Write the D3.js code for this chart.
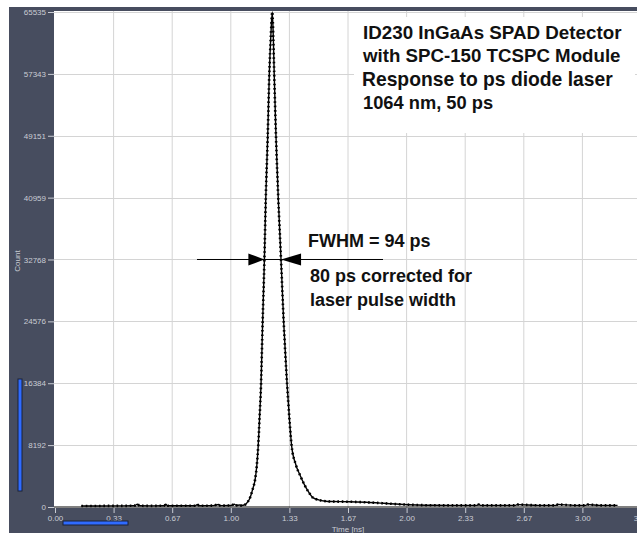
<!DOCTYPE html>
<html>
<head>
<meta charset="utf-8">
<script src="https://cdn.jsdelivr.net/npm/d3@7"></script>
<style>
  body { margin: 0; background: #fff; }
  svg { display: block; }
</style>
</head>
<body>
<script>

// data (time in ns, count)
const timeNs = [0.15, 0.25, 0.35, 0.45, 0.47, 0.48, 0.55, 0.62, 0.63, 0.64, 0.75, 0.80, 0.81, 0.82,
  0.90, 0.93, 0.94, 1.00, 1.02, 1.03, 1.05, 1.06, 1.08, 1.095, 1.105, 1.115, 1.125, 1.138, 1.148,
  1.156, 1.164, 1.172, 1.181, 1.191, 1.199, 1.210, 1.219, 1.228, 1.236, 1.242, 1.247, 1.257, 1.270,
  1.286, 1.301, 1.320, 1.334, 1.346, 1.370, 1.394, 1.420, 1.445, 1.469, 1.50, 1.53, 1.58, 1.67,
  1.77, 1.87, 1.96, 2.06, 2.15, 2.25, 2.40, 2.41, 2.42, 2.55, 2.62, 2.63, 2.75, 2.85, 2.86, 2.95,
  3.02, 3.03, 3.10, 3.20];
const counts = [130, 140, 150, 160, 380, 160, 150, 170, 360, 170, 160, 170, 330, 170,
  180, 340, 180, 200, 360, 220, 260, 200, 300, 650, 1000, 1600, 2400, 3600, 5500,
  8100, 12000, 16300, 24400, 32600, 40900, 49100, 57300, 62500, 65535, 62000, 57300, 49100, 40900,
  32600, 24400, 16300, 11500, 8100, 5600, 4200, 2900, 1900, 1200, 950, 800, 720, 700,
  620, 490, 360, 265, 225, 220, 220, 330, 220, 220, 220, 320, 220, 220, 330, 220,
  220, 320, 220, 220];

const yTicks = [0, 8192, 16384, 24576, 32768, 40959, 49151, 57343, 65535];
const xTicks = [0, 1 / 3, 2 / 3, 1, 4 / 3, 5 / 3, 2, 7 / 3, 8 / 3, 3, 10 / 3];
const xTickLabels = ["0.00", "0.33", "0.67", "1.00", "1.33", "1.67", "2.00", "2.33", "2.67", "3.00", "3.33"];

const titleLines = ["ID230 InGaAs SPAD Detector", "with SPC-150 TCSPC Module",
  "Response to ps diode laser", "1064 nm, 50 ps"];
const fwhmText = "FWHM = 94 ps";
const noteLines = ["80 ps corrected for", "laser pulse width"];

const W = 637, H = 533;
const plotLeft = 54, plotTop = 11, plotBottom = 508;

const svg = d3.select("body")
  .append("svg")
  .attr("width", W)
  .attr("height", H);

// dark frame of the software window
svg.append("rect")
  .attr("x", 9).attr("y", 7)
  .attr("width", W - 9).attr("height", H - 7)
  .attr("fill", "#474d5f");

svg.append("rect")
  .attr("x", plotLeft).attr("y", plotTop)
  .attr("width", W - plotLeft).attr("height", plotBottom - plotTop)
  .attr("fill", "#fff");

const x = d3.scaleLinear().domain([0, 10 / 3]).range([55, 641]);
const y = d3.scaleLinear().domain([0, 65535]).range([507, 12]);

// grid
svg.append("g")
  .selectAll("line")
  .data(xTicks.slice(1))
  .join("line")
  .attr("x1", d => x(d)).attr("x2", d => x(d))
  .attr("y1", plotTop).attr("y2", plotBottom)
  .attr("stroke", "#d4d4d4").attr("stroke-width", 1);

svg.append("g")
  .selectAll("line")
  .data(yTicks.slice(1))
  .join("line")
  .attr("x1", plotLeft).attr("x2", W)
  .attr("y1", d => Math.round(y(d)) + 0.5).attr("y2", d => Math.round(y(d)) + 0.5)
  .attr("stroke", "#d4d4d4").attr("stroke-width", 1);

// white box behind the title text
svg.append("rect")
  .attr("x", 354).attr("y", 17)
  .attr("width", 281).attr("height", 116)
  .attr("fill", "#fff");

// axes
const yAxis = svg.append("g")
  .attr("transform", "translate(" + plotLeft + ",0)")
  .call(d3.axisLeft(y).tickValues(yTicks).tickSize(6).tickPadding(2).tickFormat(d3.format("d")));

const xAxis = svg.append("g")
  .attr("transform", "translate(0," + plotBottom + ")")
  .call(d3.axisBottom(x).tickValues(xTicks).tickSize(5).tickPadding(2)
    .tickFormat((d, i) => xTickLabels[i]));

[yAxis, xAxis].forEach(function (ax) {
  ax.select(".domain").remove();
  ax.selectAll(".tick line").attr("stroke", "#c9ccd4");
  ax.selectAll(".tick text")
    .attr("fill", "#c9ccd4")
    .style("font-family", "'Liberation Sans', Arial, sans-serif")
    .style("font-size", "8px");
});

svg.append("text")
  .attr("x", 348).attr("y", 532)
  .attr("text-anchor", "middle")
  .attr("fill", "#c9ccd4")
  .style("font-family", "'Liberation Sans', Arial, sans-serif")
  .style("font-size", "8px")
  .text("Time [ns]");

svg.append("text")
  .attr("transform", "translate(20,261) rotate(-90)")
  .attr("text-anchor", "middle")
  .attr("fill", "#c9ccd4")
  .style("font-family", "'Liberation Sans', Arial, sans-serif")
  .style("font-size", "8px")
  .text("Count");

// scroll bars
svg.append("rect")
  .attr("x", 18).attr("y", 379).attr("width", 4).attr("height", 112)
  .attr("fill", "#2f6bff").attr("stroke", "#1b2238").attr("stroke-width", 1);
svg.append("rect")
  .attr("x", 63).attr("y", 521).attr("width", 65).attr("height", 4)
  .attr("fill", "#2f6bff").attr("stroke", "#1b2238").attr("stroke-width", 1);

// curve
svg.append("clipPath").attr("id", "plotclip")
  .append("rect")
  .attr("x", plotLeft).attr("y", plotTop)
  .attr("width", W - plotLeft).attr("height", plotBottom - plotTop);

const plotG = svg.append("g").attr("clip-path", "url(#plotclip)");

// zero line
plotG.append("line")
  .attr("x1", plotLeft).attr("x2", W)
  .attr("y1", y(0)).attr("y2", y(0))
  .attr("stroke", "#000").attr("stroke-width", 1);

const points = timeNs.map((t, i) => [t, counts[i]]);
const line = d3.line()
  .x(d => x(d[0]))
  .y(d => y(d[1]))
  .curve(d3.curveMonotoneX);

plotG.append("path")
  .attr("d", line(points))
  .attr("fill", "none")
  .attr("stroke", "#000")
  .attr("stroke-width", 1.4);

// dotted look of the data points
plotG.append("path")
  .attr("d", line(points))
  .attr("fill", "none")
  .attr("stroke", "#000")
  .attr("stroke-width", 2.6)
  .attr("stroke-dasharray", "1.6,2.8");

// FWHM arrow
const halfY = y(32768);
const leftX = x(1.191), rightX = x(1.286);

svg.append("line")
  .attr("x1", 197).attr("x2", 383)
  .attr("y1", halfY).attr("y2", halfY)
  .attr("stroke", "#000").attr("stroke-width", 1);

svg.append("path")
  .attr("d", "M " + (leftX - 16) + " " + (halfY - 6) + " L " + leftX + " " + halfY + " L " + (leftX - 16) + " " + (halfY + 6) + " Z")
  .attr("fill", "#000");
svg.append("path")
  .attr("d", "M " + (rightX + 20) + " " + (halfY - 6) + " L " + rightX + " " + halfY + " L " + (rightX + 20) + " " + (halfY + 6) + " Z")
  .attr("fill", "#000");

// annotations
const font = "'Liberation Sans', Arial, sans-serif";
const titleSizes = [18.8, 18.7, 19.3, 18.3];

svg.append("g")
  .selectAll("text")
  .data(titleLines)
  .join("text")
  .attr("x", (d, i) => i == 2 ? 362 : 363)
  .attr("y", (d, i) => 38.5 + i * 23.5)
  .style("font-family", font)
  .style("font-size", (d, i) => titleSizes[i] + "px")
  .style("font-weight", "bold")
  .attr("fill", "#111")
  .text(d => d);

svg.append("text")
  .attr("x", 308).attr("y", 247)
  .style("font-family", font)
  .style("font-size", "18px")
  .style("font-weight", "bold")
  .attr("fill", "#111")
  .text(fwhmText);

svg.append("g")
  .selectAll("text")
  .data(noteLines)
  .join("text")
  .attr("x", 310)
  .attr("y", (d, i) => 282 + i * 23.5)
  .style("font-family", font)
  .style("font-size", "18px")
  .style("font-weight", "bold")
  .attr("fill", "#111")
  .text(d => d);

</script>
</body>
</html>
